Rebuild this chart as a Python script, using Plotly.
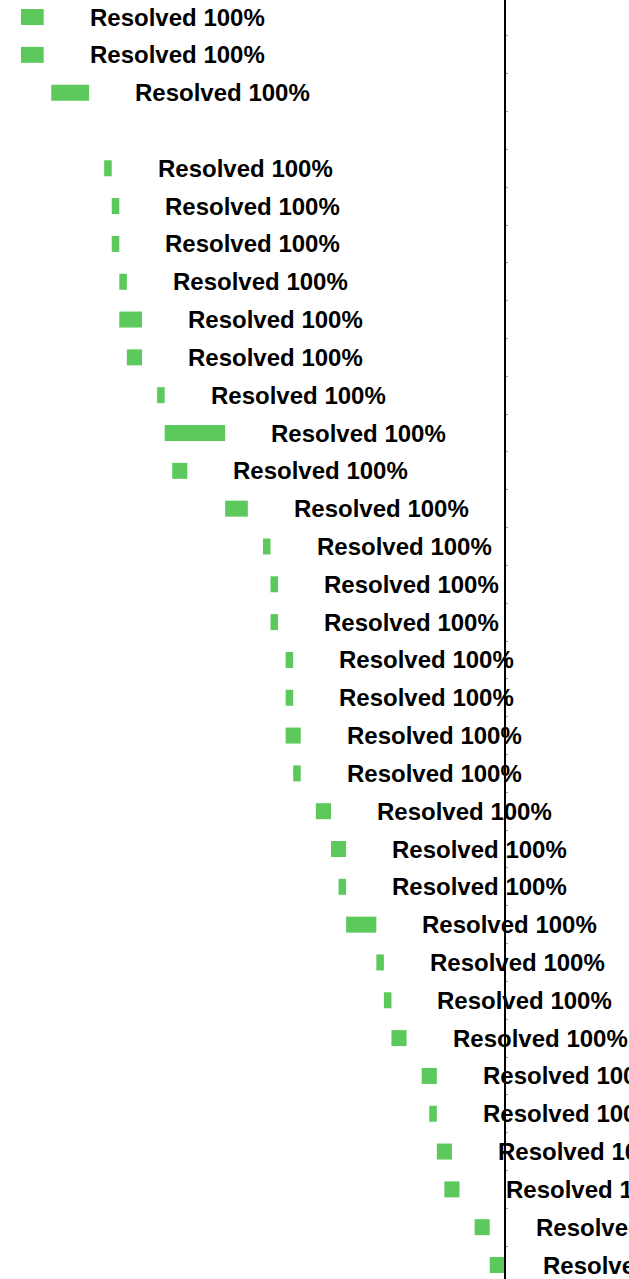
import plotly.graph_objects as go

# ---- data (day offsets) ----
rows = list(range(34))
starts = [0, 0, 4, None, 11, 12, 12, 13, 13, 14, 18, 19, 20, 27, 32, 33, 33,
          35, 35, 35, 36, 39, 41, 42, 43, 47, 48, 49, 53, 54, 55, 56, 60, 62]
durations = [3, 3, 5, None, 1, 1, 1, 1, 3, 2, 1, 8, 2, 3, 1, 1, 1,
             1, 1, 2, 1, 2, 2, 1, 4, 1, 1, 2, 2, 1, 2, 2, 2, 2]
labels = ["Resolved 100%"] * 3 + [None] + ["Resolved 100%"] * 30
today = 64

# ---- view ----
x_range = [-2.78, 80.42]
y_range = [33.37, -0.4495]

ys = [r for r, s in zip(rows, starts) if s is not None]
bs = [s for s in starts if s is not None]
ds = [d for d in durations if d is not None]

fig = go.Figure()
fig.add_trace(go.Bar(
    orientation="h", y=ys, x=ds, base=bs, width=0.423,
    marker=dict(color="#5cc95c", line=dict(width=0)),
    hoverinfo="skip", showlegend=False,
))

annotations = []
for r, s, d, t in zip(rows, starts, durations, labels):
    if s is None:
        continue
    end = s + d
    # labels of bars reaching the today line are pulled in slightly
    shift = 36 if end >= today else 44
    annotations.append(dict(
        x=end, y=r, text=t, xref="x", yref="y", xanchor="left", yanchor="middle",
        showarrow=False, xshift=shift,
        font=dict(family="Liberation Sans, Arial, sans-serif", size=24, color="black", weight="bold"),
    ))

pos = (today - x_range[0]) / (x_range[1] - x_range[0])

fig.update_layout(
    width=629, height=1279,
    margin=dict(l=0, r=0, t=0, b=0),
    paper_bgcolor="white", plot_bgcolor="white",
    annotations=annotations,
    xaxis=dict(range=x_range, visible=False, domain=[0, 1]),
    yaxis=dict(range=y_range, anchor="free", position=pos,
               tickvals=[i + 0.5 for i in range(-1, 34)],
               ticks="inside", ticklen=2, tickcolor="#999999", tickwidth=1,
               showticklabels=False, showgrid=False, zeroline=False,
               showline=True, linecolor="black", linewidth=1.5),
    showlegend=False,
)

fig.write_html(
    "out.html",
    config={"displayModeBar": False},
    post_script="document.body.style.margin='0';document.body.style.overflow='hidden';",
)
